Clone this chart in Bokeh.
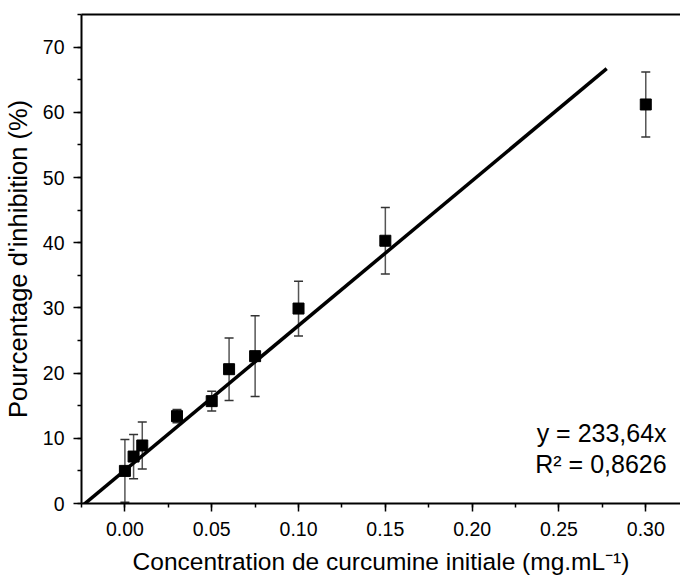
from bokeh.plotting import figure
from bokeh.models import (Range1d, SingleIntervalTicker, NumeralTickFormatter, Whisker,
                          TeeHead, ColumnDataSource, Label, LinearAxis, FixedTicker)
from bokeh.embed import file_html
from bokeh.resources import INLINE

# data
conc = [0.0, 0.005, 0.01, 0.03, 0.05, 0.06, 0.075, 0.10, 0.15, 0.30]
inhib = [5.0, 7.2, 8.9, 13.4, 15.7, 20.6, 22.6, 29.9, 40.3, 61.2]
err = [4.8, 3.4, 3.6, 1.0, 1.5, 4.8, 6.2, 4.2, 5.1, 5.0]
fit_x = [-0.025, 0.2775]
fit_y = [-0.45, 66.7]
eq_text = "y = 233,64x"
r2_text = "R² = 0,8626"
x_label = "Concentration de curcumine initiale (mg.mL⁻¹)"
y_label = "Pourcentage d'inhibition (%)"

FONT = "Liberation Sans"

src = ColumnDataSource(dict(
    x=conc, y=inhib,
    lo=[v - e for v, e in zip(inhib, err)],
    hi=[v + e for v, e in zip(inhib, err)],
))

p = figure(width=680, height=583, output_backend="svg", toolbar_location=None,
           x_range=Range1d(-0.025, 0.32), y_range=Range1d(0, 75),
           min_border_left=81, min_border_top=14, min_border_right=0, min_border_bottom=80,
           x_axis_label=x_label, y_axis_label=y_label)
p.outline_line_color = None
p.grid.visible = False
p.background_fill_color = "white"
p.border_fill_color = "white"

for ax in (p.xaxis[0], p.yaxis[0]):
    ax.axis_line_width = 2
    ax.axis_line_color = "black"
    ax.major_tick_line_width = 1.5
    ax.minor_tick_line_width = 1.5
    ax.major_tick_line_color = "black"
    ax.minor_tick_line_color = "black"
    ax.major_tick_in = 0
    ax.major_tick_out = 8
    ax.minor_tick_in = 0
    ax.minor_tick_out = 4
    ax.major_label_text_font = FONT
    ax.major_label_text_font_size = "19.5px"
    ax.major_label_text_color = "black"
    ax.axis_label_text_font = FONT
    ax.axis_label_text_font_style = "normal"
    ax.axis_label_text_color = "black"

p.xaxis[0].ticker = SingleIntervalTicker(interval=0.05, num_minor_ticks=2)
p.xaxis[0].formatter = NumeralTickFormatter(format="0.00")
p.xaxis[0].major_label_standoff = 10
p.xaxis[0].axis_label_text_font_size = "24.5px"
p.xaxis[0].axis_label_standoff = 9

p.yaxis[0].ticker = SingleIntervalTicker(interval=10, num_minor_ticks=2)
p.yaxis[0].major_label_standoff = 9
p.yaxis[0].axis_label_text_font_size = "25.5px"
p.yaxis[0].axis_label_standoff = 8

top = LinearAxis(ticker=FixedTicker(ticks=[]), major_label_standoff=0,
                 major_tick_out=0, minor_tick_out=0, major_tick_in=0, minor_tick_in=0,
                 axis_line_width=2, axis_line_color="black",
                 major_label_text_font_size="0px")
p.add_layout(top, "above")

# fit line
p.line(fit_x, fit_y, line_color="black", line_width=3.5)

# error bars
wh = Whisker(source=src, base="x", lower="lo", upper="hi",
             line_color="#555555", line_width=1.5,
             upper_head=TeeHead(size=9, line_color="#333333", line_width=1.5),
             lower_head=TeeHead(size=9, line_color="#333333", line_width=1.5))
p.add_layout(wh)

p.scatter("x", "y", source=src, marker="square", size=11, fill_color="black",
          line_color="black")

p.add_layout(Label(x=0.312, y=10.75, text=eq_text, text_align="right",
                   text_baseline="middle", text_font=FONT, text_font_size="25px",
                   text_color="black"))
p.add_layout(Label(x=0.312, y=6.1, text=r2_text, text_align="right",
                   text_baseline="middle", text_font=FONT, text_font_size="25px",
                   text_color="black"))

open("out.html", "w").write(file_html(p, INLINE))
